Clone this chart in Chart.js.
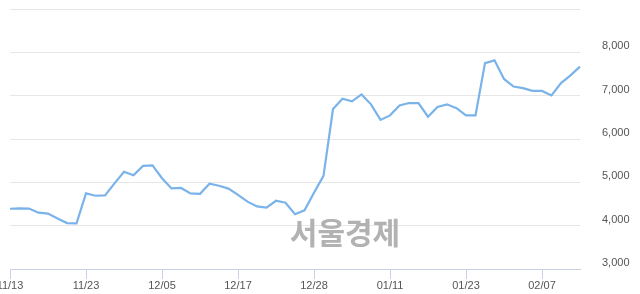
<html lang="ko">

<head>
	<meta charset="utf-8">
	<title>주가 차트</title>
	<script src="https://cdn.jsdelivr.net/npm/chart.js@4/dist/chart.umd.min.js"></script>
	<style>
		body {
			margin: 0;
			background: #fff;
		}

		canvas {
			display: block;
		}
	</style>
</head>

<body>
	<canvas id="chart" width="640" height="294"></canvas>
	<script>
		// 거래일 (2018-11-13 ~ 2019-02-13)
		const dates = [
			'11/13', '11/14', '11/15', '11/16', '11/19', '11/20', '11/21', '11/22', '11/23', '11/26',
			'11/27', '11/28', '11/29', '11/30', '12/03', '12/04', '12/05', '12/06', '12/07', '12/10',
			'12/11', '12/12', '12/13', '12/14', '12/17', '12/18', '12/19', '12/20', '12/21', '12/24',
			'12/26', '12/27', '12/28', '01/02', '01/03', '01/04', '01/07', '01/08', '01/09', '01/10',
			'01/11', '01/14', '01/15', '01/16', '01/17', '01/18', '01/21', '01/22', '01/23', '01/24',
			'01/25', '01/28', '01/29', '01/30', '01/31', '02/01', '02/07', '02/08', '02/11', '02/12',
			'02/13'
		];

		// 종가
		const prices = [
			4390, 4400, 4395, 4300, 4280, 4165, 4060, 4055, 4745, 4690,
			4700, 4975, 5245, 5165, 5380, 5390, 5095, 4860, 4870, 4745,
			4735, 4970, 4920, 4855, 4710, 4555, 4445, 4415, 4575, 4530,
			4265, 4355, 4760, 5150, 6690, 6930, 6870, 7030, 6800, 6440,
			6545, 6775, 6830, 6830, 6515, 6740, 6800, 6710, 6545, 6545,
			7750, 7815, 7385, 7210, 7175, 7110, 7110, 7005, 7290, 7470,
			7670
		];

		// 축 눈금
		const yMin = 3000;
		const yMax = 9000;
		const yStep = 1000;
		const xLabelEvery = 8;

		const fontFamily = '"Liberation Sans", Arial, sans-serif';

		// 워터마크
		const watermark = {
			id: 'watermark',
			beforeDatasetsDraw(chart) {
				const ctx = chart.ctx;
				ctx.save();
				ctx.font = 'bold 30px "Noto Sans CJK KR"';
				ctx.fillStyle = '#b2b2b2';
				ctx.textAlign = 'center';
				ctx.textBaseline = 'middle';
				ctx.fillText('서울경제', 345, 233);
				ctx.restore();
			}
		};

		new Chart(document.getElementById('chart'), {
			type: 'line',
			data: {
				labels: dates,
				datasets: [{
					data: prices,
					borderColor: '#7ab3ea',
					borderWidth: 2.2,
					pointRadius: 0,
					tension: 0,
					fill: false
				}]
			},
			options: {
				responsive: false,
				animation: false,
				layout: {
					padding: { left: 10, top: 9, right: 0, bottom: 0 }
				},
				plugins: {
					legend: { display: false },
					tooltip: { enabled: false }
				},
				scales: {
					x: {
						offset: false,
						afterBuildTicks: function (scale) {
							scale.ticks = scale.ticks.filter(t => t.value % xLabelEvery === 0);
						},
						afterFit: function (scale) {
							scale.height = 25;
							scale.paddingLeft = 0;
							scale.paddingRight = 0;
						},
						grid: {
							drawOnChartArea: false,
							tickLength: 10,
							color: '#c8d2e2'
						},
						border: { color: '#c8d2e2' },
						ticks: {
							autoSkip: false,
							maxRotation: 0,
							padding: 0,
							color: '#555',
							font: { size: 11, family: fontFamily }
						}
					},
					y: {
						position: 'right',
						min: yMin,
						max: yMax,
						afterFit: function (scale) {
							scale.width = 60;
							scale.paddingTop = 0;
							scale.paddingBottom = 0;
						},
						grid: {
							color: '#e6e6e6',
							drawTicks: false
						},
						border: { display: false },
						ticks: {
							stepSize: yStep,
							padding: 22,
							labelOffset: -6,
							color: '#555',
							font: { size: 11, family: fontFamily },
							callback: function (value) {
								return value === yMax ? '' : value.toLocaleString('en-US');
							}
						}
					}
				}
			},
			plugins: [watermark]
		});
	</script>
</body>

</html>
